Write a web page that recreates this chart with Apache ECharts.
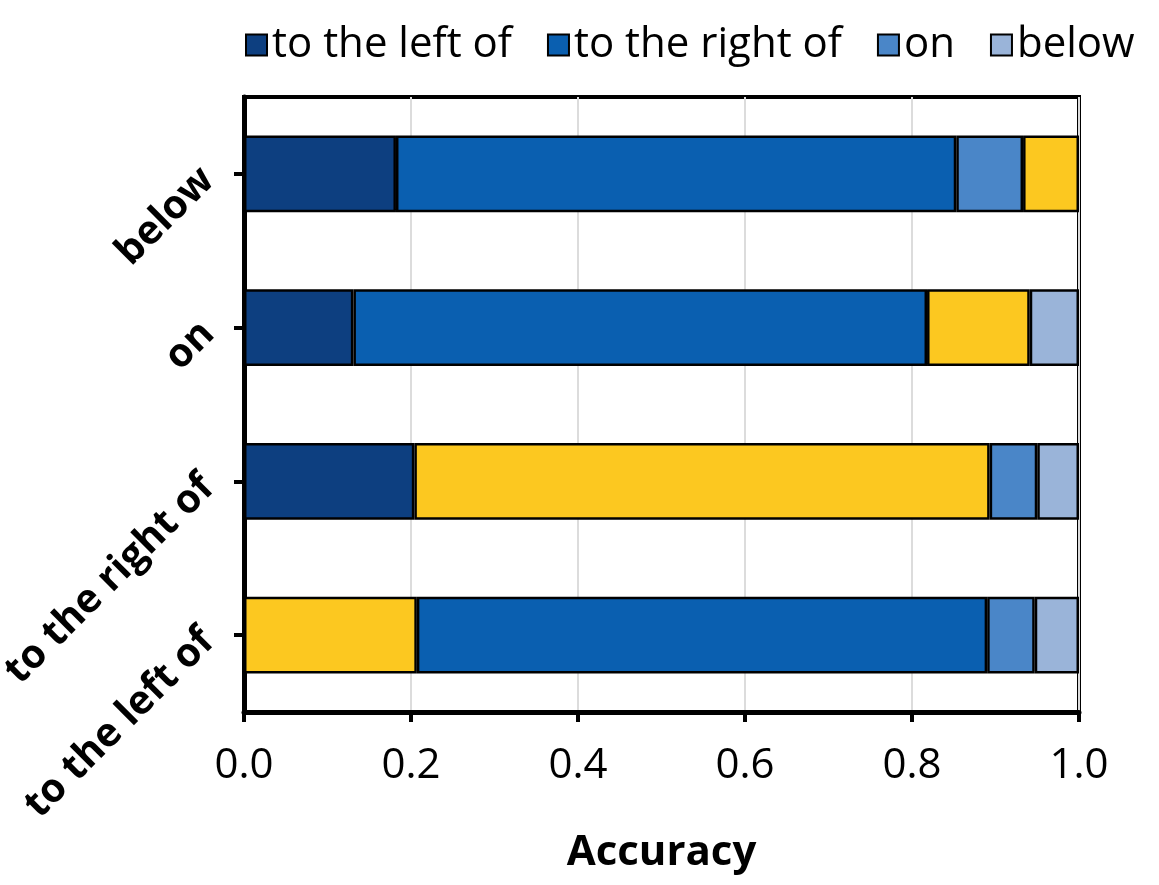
<!DOCTYPE html>
<html>
<head>
<meta charset="utf-8">
<script src="https://cdn.jsdelivr.net/npm/echarts@6/dist/echarts.min.js"></script>
<style>html,body{margin:0;padding:0;background:#fff}#c{width:1159px;height:885px}</style>
</head>
<body>
<div id="c"></div>
<script>
const categories = ['to the left of', 'to the right of', 'on', 'below'];
const seriesNames = ['to the left of', 'to the right of', 'on', 'below'];
const leftVals  = [0.207, 0.204, 0.131, 0.182];
const rightVals = [0.683, 0.689, 0.687, 0.671];
const onVals    = [0.057, 0.057, 0.123, 0.080];
const belowVals = [0.053, 0.050, 0.059, 0.067];
const xTicks = ['0.0', '0.2', '0.4', '0.6', '0.8', '1.0'];
const colors = ['#0d3f80', '#0a5fb0', '#4a86c8', '#9ab4d9'];
const correctColor = '#fcc820';

const allVals = [leftVals, rightVals, onVals, belowVals];
const series = allVals.map((vals, si) => ({
  name: seriesNames[si],
  type: 'bar',
  stack: 'total',
  barWidth: '50%',
  itemStyle: { color: colors[si], borderColor: '#000', borderWidth: 2.5 },
  data: vals.map((v, ci) => ci === si ? { value: v, itemStyle: { color: correctColor } } : v)
}));

const chart = echarts.init(document.getElementById('c'));
chart.setOption({
  animation: false,
  textStyle: { fontFamily: 'Open Sans' },
  legend: {
    top: 19, left: 240,
    itemWidth: 21, itemHeight: 21, itemGap: 35,
    textStyle: { fontSize: 42, color: '#000', fontFamily: 'Open Sans' },
    icon: 'rect',
    data: seriesNames
  },
  grid: {
    left: 244, right: 80, top: 97, bottom: 173,
    outerBoundsMode: 'none',
    show: true, borderColor: '#000', borderWidth: 4
  },
  xAxis: {
    type: 'value', min: 0, max: 1, interval: 0.2,
    name: 'Accuracy', nameLocation: 'middle', nameGap: 120,
    nameTextStyle: { fontSize: 42, fontWeight: 'bold', color: '#000' },
    axisLine: { show: true, lineStyle: { color: '#000', width: 5 } },
    axisTick: { show: true, length: 10, lineStyle: { color: '#000', width: 4 } },
    axisLabel: { fontSize: 42, color: '#000', margin: 33, formatter: (v) => xTicks[Math.round(v / 0.2)] },
    splitLine: { show: true, lineStyle: { color: '#dcdcdc', width: 2 } }
  },
  yAxis: {
    type: 'category', data: categories,
    axisLine: { show: true, lineStyle: { color: '#000', width: 5 } },
    axisTick: { show: true, alignWithLabel: true, length: 10, lineStyle: { color: '#000', width: 4 } },
    axisLabel: { fontSize: 40, fontWeight: 'bold', color: '#000', rotate: 45, margin: 36 },
    splitLine: { show: false }
  },
  series: series
});
</script>
</body>
</html>
